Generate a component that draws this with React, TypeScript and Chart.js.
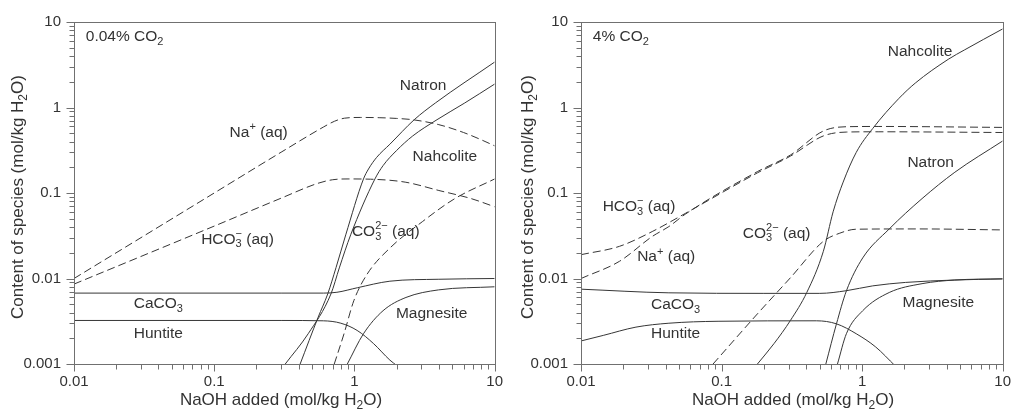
import React, { useEffect, useRef } from 'react';
import { Chart, registerables } from 'chart.js';

Chart.register(...registerables);

type Pt = [number, number];

// ---------- axis ranges and tick labels ----------
const X_TICK_VALUES = [0.01, 0.1, 1, 10];
const X_TICK_LABELS = ['0.01', '0.1', '1', '10'];
const Y_TICK_VALUES = [0.001, 0.01, 0.1, 1, 10];
const Y_TICK_LABELS = ['0.001', '0.01', '0.1', '1', '10'];

// ---------- left panel: 0.04% CO2 ----------
const L_NA: Pt[] = [[0.01, 0.01], [0.1, 0.1], [0.3, 0.3], [0.6, 0.59], [0.72, 0.69], [0.85, 0.75], [1.1, 0.765], [1.5, 0.76], [2.0, 0.745], [2.6, 0.72], [4, 0.63], [6, 0.51], [8, 0.42], [10, 0.356]];
const L_HCO3: Pt[] = [[0.01, 0.0086], [0.1, 0.041], [0.3, 0.087], [0.55, 0.13], [0.7, 0.143], [0.9, 0.146], [1.3, 0.145], [2.3, 0.134], [4, 0.107], [6.8, 0.086], [10, 0.069]];
const L_CO3: Pt[] = [[0.718, 0.001], [0.843, 0.00226], [0.99, 0.0055], [1.23, 0.0112], [1.79, 0.0227], [3.05, 0.0462], [5.2, 0.086], [10, 0.146]];
const L_NATRON: Pt[] = [[0.41, 0.001], [0.55, 0.0035], [0.645, 0.0066], [0.74, 0.0135], [0.867, 0.0324], [1.16, 0.146], [1.26, 0.191], [1.44, 0.261], [1.79, 0.372], [2.67, 0.72], [3.78, 1.13], [10, 3.4]];
const L_NAHCOLITE: Pt[] = [[0.321, 0.001], [0.468, 0.00226], [0.68, 0.0066], [0.78, 0.0133], [0.94, 0.0324], [1.4, 0.146], [1.6, 0.209], [1.99, 0.312], [2.6, 0.464], [3.88, 0.72], [6.12, 1.13], [10, 1.88]];
const L_CACO3: Pt[] = [[0.01, 0.00675], [0.3, 0.00675], [0.6, 0.00675], [0.75, 0.0069], [1.05, 0.0078], [1.79, 0.0093], [4, 0.0098], [10, 0.01]];
const L_HUNTITE: Pt[] = [[0.01, 0.00323], [0.3, 0.00323], [0.6, 0.0032], [0.8, 0.003], [1.045, 0.00247], [1.37, 0.00173], [1.79, 0.00111], [2.02, 0.00095]];
const L_MAGNESITE: Pt[] = [[0.89, 0.001], [1.16, 0.00226], [1.6, 0.0042], [2.33, 0.006], [3.98, 0.00736], [10, 0.008]];

// ---------- right panel: 4% CO2 ----------
const R_HCO3: Pt[] = [[0.01, 0.019], [0.0188, 0.0238], [0.0321, 0.0354], [0.0552, 0.0577], [0.18, 0.172], [0.309, 0.27], [0.53, 0.465], [0.773, 0.516], [1.3, 0.52], [10, 0.51]];
const R_NA: Pt[] = [[0.01, 0.01], [0.0188, 0.0159], [0.0321, 0.031], [0.0422, 0.0405], [0.0552, 0.0565], [0.18, 0.178], [0.309, 0.278], [0.53, 0.531], [0.773, 0.596], [1.3, 0.6], [10, 0.585]];
const R_CO3: Pt[] = [[0.087, 0.001], [0.18, 0.00386], [0.309, 0.0102], [0.53, 0.0272], [0.694, 0.0339], [0.908, 0.0377], [2.5, 0.038], [10, 0.037]];
const R_NAHCOLITE: Pt[] = [[0.18, 0.001], [0.236, 0.00173], [0.309, 0.00323], [0.404, 0.00686], [0.53, 0.0208], [0.622, 0.0603], [0.733, 0.134], [0.908, 0.298], [1.19, 0.568], [1.83, 1.28], [2.39, 1.93], [4.1, 3.66], [5.37, 4.73], [10, 8.3]];
const R_NATRON: Pt[] = [[0.552, 0.001], [0.657, 0.00295], [0.773, 0.00716], [1.01, 0.0174], [1.56, 0.038], [2.67, 0.086], [4.57, 0.175], [10, 0.406]];
const R_CACO3: Pt[] = [[0.01, 0.0075], [0.0422, 0.0068], [0.2, 0.0067], [0.5, 0.0067], [0.773, 0.0072], [1.19, 0.0082], [2.04, 0.009], [4.57, 0.0096], [10, 0.0099]];
const R_HUNTITE: Pt[] = [[0.01, 0.00186], [0.0144, 0.00216], [0.0246, 0.0027], [0.0422, 0.003], [0.0944, 0.00316], [0.475, 0.0032], [0.657, 0.00295], [0.908, 0.00226], [1.25, 0.00158], [1.72, 0.00095]];
const R_MAGNESITE: Pt[] = [[0.668, 0.001], [0.773, 0.00226], [1.01, 0.0042], [1.56, 0.00686], [2.67, 0.0087], [4.57, 0.0096], [10, 0.0099]];

// ---------- styling ----------
const FONT = '"Liberation Sans", Arial, Helvetica, sans-serif';
const TEXT = '#333333';
const LINE = '#363636';
const FRAME = '#707070';
const LABEL_SIZE = 15.5;

type Part = { t?: string; sub?: string; sup?: string };
type Label = { x: number; y: number; parts: Part[] };
type Series = { data: Pt[]; dashed: boolean };

const LEFT_SERIES: Series[] = [
  { data: L_NA, dashed: true },
  { data: L_HCO3, dashed: true },
  { data: L_CO3, dashed: true },
  { data: L_NATRON, dashed: false },
  { data: L_NAHCOLITE, dashed: false },
  { data: L_CACO3, dashed: false },
  { data: L_HUNTITE, dashed: false },
  { data: L_MAGNESITE, dashed: false },
];
const RIGHT_SERIES: Series[] = [
  { data: R_HCO3, dashed: true },
  { data: R_NA, dashed: true },
  { data: R_CO3, dashed: true },
  { data: R_NAHCOLITE, dashed: false },
  { data: R_NATRON, dashed: false },
  { data: R_CACO3, dashed: false },
  { data: R_HUNTITE, dashed: false },
  { data: R_MAGNESITE, dashed: false },
];

const NA_PARTS: Part[] = [{ t: 'Na' }, { sup: '+' }, { t: ' (aq)' }];
const HCO3_PARTS: Part[] = [{ t: 'HCO' }, { sub: '3', sup: '\u2212' }, { t: ' (aq)' }];
const CO3_PARTS: Part[] = [{ t: 'CO' }, { sub: '3', sup: '2\u2212' }, { t: ' (aq)' }];
const CACO3_PARTS: Part[] = [{ t: 'CaCO' }, { sub: '3' }];

const LEFT_LABELS: Label[] = [
  { x: 0.01213, y: 6.71, parts: [{ t: '0.04% CO' }, { sub: '2' }] },
  { x: 0.1287, y: 0.507, parts: NA_PARTS },
  { x: 0.0807, y: 0.0286, parts: HCO3_PARTS },
  { x: 2.108, y: 1.82, parts: [{ t: 'Natron' }] },
  { x: 2.598, y: 0.268, parts: [{ t: 'Nahcolite' }] },
  { x: 0.959, y: 0.0354, parts: CO3_PARTS },
  { x: 0.0267, y: 0.00507, parts: CACO3_PARTS },
  { x: 0.0267, y: 0.00228, parts: [{ t: 'Huntite' }] },
  { x: 1.977, y: 0.00389, parts: [{ t: 'Magnesite' }] },
];
const RIGHT_LABELS: Label[] = [
  { x: 0.01214, y: 6.71, parts: [{ t: '4% CO' }, { sub: '2' }] },
  { x: 0.01426, y: 0.0689, parts: HCO3_PARTS },
  { x: 0.0251, y: 0.01774, parts: NA_PARTS },
  { x: 0.1416, y: 0.0336, parts: CO3_PARTS },
  { x: 1.522, y: 4.5, parts: [{ t: 'Nahcolite' }] },
  { x: 2.1, y: 0.228, parts: [{ t: 'Natron' }] },
  { x: 0.0315, y: 0.00494, parts: CACO3_PARTS },
  { x: 0.0315, y: 0.00228, parts: [{ t: 'Huntite' }] },
  { x: 1.94, y: 0.00521, parts: [{ t: 'Magnesite' }] },
];

const X_TITLE: Part[] = [{ t: 'NaOH added (mol/kg H' }, { sub: '2' }, { t: 'O)' }];
const Y_TITLE: Part[] = [{ t: 'Content of species (mol/kg H' }, { sub: '2' }, { t: 'O)' }];

function measureRich(ctx: CanvasRenderingContext2D, parts: Part[], size: number): number {
  let w = 0;
  for (const p of parts) {
    if (p.t !== undefined) {
      ctx.font = `${size}px ${FONT}`;
      w += ctx.measureText(p.t).width;
    } else {
      ctx.font = `${Math.round(size * 0.7)}px ${FONT}`;
      w += Math.max(p.sub ? ctx.measureText(p.sub).width : 0, p.sup ? ctx.measureText(p.sup).width : 0);
    }
  }
  return w;
}

function drawRich(ctx: CanvasRenderingContext2D, x: number, y: number, parts: Part[], size: number) {
  let cx = x;
  ctx.textBaseline = 'middle';
  ctx.textAlign = 'left';
  ctx.fillStyle = TEXT;
  for (const p of parts) {
    if (p.t !== undefined) {
      ctx.font = `${size}px ${FONT}`;
      ctx.fillText(p.t, cx, y);
      cx += ctx.measureText(p.t).width;
    } else {
      ctx.font = `${Math.round(size * 0.7)}px ${FONT}`;
      let w = 0;
      if (p.sub) {
        ctx.fillText(p.sub, cx, y + size * 0.32);
        w = Math.max(w, ctx.measureText(p.sub).width);
      }
      if (p.sup) {
        ctx.fillText(p.sup, cx, y - size * 0.36);
        w = Math.max(w, ctx.measureText(p.sup).width);
      }
      cx += w;
    }
  }
}

type PanelCfg = {
  left: number;
  width: number;
  plotLeft: number;
  padRight: number;
  series: Series[];
  labels: Label[];
  xTitleX: number;
};

const PANELS: PanelCfg[] = [
  { left: 0, width: 512, plotLeft: 74, padRight: 8, series: LEFT_SERIES, labels: LEFT_LABELS, xTitleX: 281 },
  { left: 510, width: 510, plotLeft: 71, padRight: 12, series: RIGHT_SERIES, labels: RIGHT_LABELS, xTitleX: 283 },
];

const HEIGHT = 411;
const PLOT_TOP = 18;
const PLOT_BOTTOM = 364;

function makeDecorPlugin(cfg: PanelCfg) {
  return {
    id: 'decor',
    afterDraw(chart: any) {
      const ctx: CanvasRenderingContext2D = chart.ctx;
      const { left, right, top, bottom } = chart.chartArea;
      const xs = chart.scales.x;
      const ys = chart.scales.y;
      ctx.save();
      // frame
      ctx.strokeStyle = FRAME;
      ctx.lineWidth = 1;
      ctx.strokeRect(Math.round(left) + 0.5, Math.round(top) + 0.5, Math.round(right - left), Math.round(bottom - top));
      // tick marks
      ctx.beginPath();
      for (let e = -2; e <= 1; e++) {
        for (let m = 1; m <= 9; m++) {
          const v = m * Math.pow(10, e);
          if (v < 0.01 * 0.999 || v > 10 * 1.001) continue;
          const px = Math.round(xs.getPixelForValue(v)) + 0.5;
          const len = m === 1 ? 7 : 5;
          ctx.moveTo(px, Math.round(bottom) + 0.5);
          ctx.lineTo(px, Math.round(bottom) + 0.5 + len);
        }
      }
      for (let e = -3; e <= 1; e++) {
        for (let m = 1; m <= 9; m++) {
          const v = m * Math.pow(10, e);
          if (v < 0.001 * 0.999 || v > 10 * 1.001) continue;
          const py = Math.round(ys.getPixelForValue(v)) + 0.5;
          const len = m === 1 ? 8 : 5;
          ctx.moveTo(Math.round(left) + 0.5, py);
          ctx.lineTo(Math.round(left) + 0.5 - len, py);
        }
      }
      ctx.stroke();
      // in-plot labels
      for (const lb of cfg.labels) {
        drawRich(ctx, xs.getPixelForValue(lb.x), ys.getPixelForValue(lb.y), lb.parts, LABEL_SIZE);
      }
      // x title
      const tsize = 17;
      const xw = measureRich(ctx, X_TITLE, tsize);
      drawRich(ctx, cfg.xTitleX - xw / 2, 400, X_TITLE, tsize);
      // y title
      const yw = measureRich(ctx, Y_TITLE, tsize);
      ctx.translate(18, 197);
      ctx.rotate(-Math.PI / 2);
      drawRich(ctx, -yw / 2, 0, Y_TITLE, tsize);
      ctx.restore();
    },
  };
}

function Panel({ cfg }: { cfg: PanelCfg }) {
  const ref = useRef<HTMLCanvasElement>(null);
  useEffect(() => {
    const canvas = ref.current;
    if (!canvas) return;
    const chart = new Chart(canvas, {
      type: 'line',
      data: {
        datasets: cfg.series.map((s) => ({
          data: s.data.map(([x, y]) => ({ x, y })),
          borderColor: LINE,
          borderWidth: 1,
          borderDash: s.dashed ? [8, 4] : [],
          pointRadius: 0,
          pointHoverRadius: 0,
          fill: false,
          cubicInterpolationMode: 'monotone' as const,
          capBezierPoints: false,
        })),
      },
      options: {
        responsive: false,
        animation: false,
        events: [],
        layout: { padding: { left: 0, top: PLOT_TOP, right: cfg.padRight, bottom: 0 } },
        plugins: { legend: { display: false }, tooltip: { enabled: false } },
        scales: {
          x: {
            type: 'logarithmic',
            min: X_TICK_VALUES[0],
            max: X_TICK_VALUES[X_TICK_VALUES.length - 1],
            grid: { display: false, drawTicks: false },
            border: { display: false },
            afterBuildTicks: (s: any) => {
              s.ticks = X_TICK_VALUES.map((v) => ({ value: v }));
            },
            afterFit: (s: any) => {
              s.height = HEIGHT - PLOT_BOTTOM;
            },
            ticks: {
              autoSkip: false,
              maxRotation: 0,
              padding: 9,
              color: TEXT,
              font: { family: FONT, size: 15 },
              callback: (_v: any, i: number) => X_TICK_LABELS[i],
            },
          },
          y: {
            type: 'logarithmic',
            min: Y_TICK_VALUES[0],
            max: Y_TICK_VALUES[Y_TICK_VALUES.length - 1],
            grid: { display: false, drawTicks: false },
            border: { display: false },
            afterBuildTicks: (s: any) => {
              s.ticks = Y_TICK_VALUES.map((v) => ({ value: v }));
            },
            afterFit: (s: any) => {
              s.width = cfg.plotLeft;
            },
            ticks: {
              autoSkip: false,
              padding: 13,
              color: TEXT,
              font: { family: FONT, size: 15 },
              callback: (_v: any, i: number) => Y_TICK_LABELS[i],
            },
          },
        },
      } as any,
      plugins: [makeDecorPlugin(cfg)],
    });
    return () => chart.destroy();
  }, [cfg]);
  return (
    <canvas
      ref={ref}
      width={cfg.width}
      height={HEIGHT}
      style={{ position: 'absolute', left: cfg.left, top: 0, width: cfg.width, height: HEIGHT, display: 'block' }}
    />
  );
}

export default function App() {
  return (
    <div style={{ position: 'absolute', left: 0, top: 0, width: 1020, height: HEIGHT, background: '#fff', overflow: 'hidden' }}>
      {PANELS.map((p, i) => (
        <Panel key={i} cfg={p} />
      ))}
    </div>
  );
}
